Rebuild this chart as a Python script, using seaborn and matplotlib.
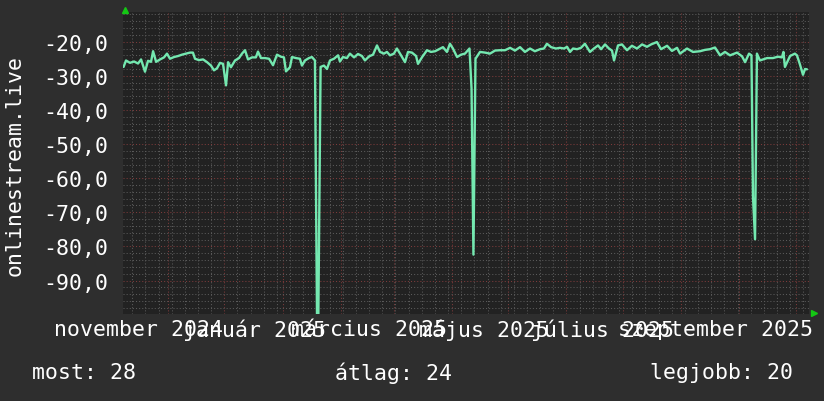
import matplotlib
matplotlib.use("Agg")
import matplotlib.pyplot as plt
import matplotlib.dates as mdates
from matplotlib.ticker import MultipleLocator, FuncFormatter
import seaborn as sns
import pandas as pd

# ---------------- data ----------------
start = pd.Timestamp("2024-10-08 02:24")
day_offsets = [
    0.3, 1.6, 3.7, 5.9, 8.0, 9.6, 11.7, 13.3, 14.9, 16.0, 17.6, 19.7, 21.8, 23.4,
    25.0, 27.1, 29.3, 31.4, 33.5, 35.6, 37.2, 38.3, 40.4, 42.6, 44.7, 46.8, 48.4,
    50.0, 51.6, 53.2, 54.8, 55.9, 57.4, 59.6, 61.7, 63.3, 64.9, 66.5, 68.6, 70.7,
    71.8, 73.4, 75.5, 77.7, 79.8, 81.9, 84.0, 85.6, 86.7, 88.8, 89.9, 92.0, 94.1,
    95.2, 96.8, 98.9, 100.5, 102.1, 103.2, 103.9, 105.1, 106.9, 108.5, 110.1,
    112.2, 114.4, 115.4, 117.0, 119.1, 120.7, 122.9, 125.0, 127.1, 128.7, 130.9,
    133.0, 135.1, 136.7, 138.8, 140.4, 142.0, 144.1, 145.7, 147.9, 150.0, 151.6,
    153.7, 155.9, 156.9, 159.0, 161.7, 163.8, 166.0, 168.1, 170.2, 172.3, 173.9,
    175.5, 177.7, 179.8, 181.9, 184.3, 185.4, 186.4, 187.5, 189.9, 192.6, 195.2,
    197.9, 200.5, 203.2, 205.9, 208.5, 211.2, 213.8, 216.5, 219.1, 221.8, 223.9,
    225.5, 227.7, 230.3, 232.4, 234.6, 236.2, 237.8, 239.4, 241.5, 243.6, 245.7,
    248.4, 250.5, 252.7, 254.3, 256.4, 258.5, 260.1, 261.2, 263.3, 265.4, 268.1,
    270.7, 273.4, 276.1, 278.7, 280.9, 284.0, 286.2, 289.4, 292.0, 294.7, 296.3,
    300.0, 303.2, 306.9, 309.6, 312.2, 314.9, 317.6, 320.2, 322.9, 326.6, 329.3,
    330.9, 333.0, 334.3, 335.1, 336.2, 337.2, 338.8, 342.6, 345.7, 348.4, 350.5,
    351.3, 352.1, 354.8, 357.4, 358.5, 360.1, 361.7, 362.8, 363.8,
]
values = [
    -27.4, -25.5, -26.2, -25.8, -26.4, -25.2, -28.8, -25.6, -25.9, -22.8, -25.9,
    -25.2, -24.6, -23.5, -25.0, -24.5, -24.2, -23.8, -23.5, -23.2, -23.2, -25.0,
    -25.4, -25.2, -26.0, -27.0, -28.4, -27.8, -26.2, -26.5, -32.8, -26.0, -27.5,
    -25.5, -24.8, -23.5, -22.5, -25.2, -24.6, -24.6, -22.9, -24.8, -24.8, -25.0,
    -26.9, -23.8, -24.4, -24.6, -28.7, -27.5, -24.5, -24.8, -25.0, -27.0, -25.5,
    -24.8, -24.5, -25.5, -101.0, -101.0, -27.4, -27.0, -28.0, -25.5, -25.0,
    -24.0, -25.8, -24.5, -24.8, -23.5, -24.6, -23.6, -24.2, -25.5, -24.3, -23.8,
    -21.1, -23.0, -23.5, -23.0, -24.0, -23.5, -22.0, -24.0, -26.0, -23.0, -23.2,
    -24.2, -26.5, -24.6, -22.5, -23.0, -22.8, -22.2, -21.6, -23.0, -20.6, -22.0,
    -24.5, -23.8, -23.5, -22.0, -33.8, -82.4, -25.0, -23.0, -23.2, -23.5, -22.6,
    -22.5, -22.5, -21.8, -22.6, -21.6, -23.0, -22.0, -22.8, -22.2, -22.0, -20.6,
    -21.6, -22.0, -21.8, -22.0, -21.5, -23.0, -22.0, -22.2, -21.8, -20.6, -23.0,
    -22.0, -21.1, -22.2, -20.8, -22.0, -22.6, -25.5, -21.1, -20.8, -22.5, -21.2,
    -22.0, -20.8, -21.5, -20.8, -20.1, -22.2, -21.2, -22.7, -21.8, -23.5, -22.0,
    -23.0, -22.8, -22.4, -22.2, -21.7, -24.0, -23.0, -24.0, -23.2, -24.3, -26.0,
    -23.5, -24.0, -65.3, -77.9, -23.5, -25.5, -24.8, -24.8, -24.4, -24.6, -23.0,
    -27.4, -24.2, -23.5, -24.0, -26.7, -29.7, -28.0, -28.1,
]
y_ticks = [-90, -80, -70, -60, -50, -40, -30, -20]
x_label_days = [8.5, 69.8, 131.0, 192.0, 255.3, 315.0]
x_labels = ["november 2024", "január 2025", "március 2025", "május 2025",
            "július 2025", "szeptember 2025"]
series_label = "onlinestream.live"
stat_names = ["most", "átlag", "legjobb"]
stat_values = [28, 24, 20]

# ---------------- style ----------------
sns.set_theme(style="dark")
plt.rcParams["font.family"] = ["DejaVu Sans Mono", "DejaVu Sans"]

BG = "#2e2e2e"
PLOT_BG = "#222222"
LINE = "#74e8b0"
MAJOR = "#7d3b3b"
MINOR = "#5a5a5a"
FS = 15.5

fig = plt.figure(figsize=(8.24, 4.02), dpi=100, facecolor=BG)
W, H = 824, 402
ax = fig.add_axes([123 / W, (H - 315) / H, 686 / W, 302 / H])
ax.set_facecolor(PLOT_BG)

df = pd.DataFrame({
    "time": start + pd.to_timedelta(day_offsets, unit="D"),
    "value": values,
})
sns.lineplot(data=df, x="time", y="value", ax=ax, color=LINE, linewidth=1.7,
             zorder=5)

ax.set_xlim(start, start + pd.Timedelta(days=364.9))
ax.set_ylim(-99.8, -11.3)

ax.xaxis.set_major_locator(mdates.MonthLocator())
ax.xaxis.set_minor_locator(mdates.WeekdayLocator(byweekday=mdates.SU))
ax.yaxis.set_major_locator(MultipleLocator(10))
ax.yaxis.set_minor_locator(MultipleLocator(2))
ax.set_axisbelow(True)
ax.grid(which="minor", color=MINOR, linestyle=(0, (1, 2)), linewidth=0.75)
ax.grid(which="major", color=MAJOR, linestyle=(0, (1, 2)), linewidth=0.75)

ax.tick_params(axis="x", which="both", length=0, labelbottom=False)
ax.set_yticks(y_ticks)
ax.yaxis.set_major_formatter(FuncFormatter(lambda v, p: f"{v:.1f}".replace(".", ",")))
ax.tick_params(axis="y", which="both", length=0, labelsize=FS, labelcolor="white",
               pad=10.5)
ax.set_xlabel("")
ax.set_ylabel("")
for s in ax.spines.values():
    s.set_visible(False)

sec = ax.secondary_xaxis("bottom")
sec.set_xticks([mdates.date2num(start + pd.Timedelta(days=d)) for d in x_label_days],
               labels=x_labels)
sec.tick_params(length=0, labelsize=FS, labelcolor="white", pad=3.5)
for s in sec.spines.values():
    s.set_visible(False)

# axis arrows
ax.plot([0.0022], [1.0075], marker="^", color="#14c814", markersize=5,
        transform=ax.transAxes, clip_on=False, linestyle="none")
ax.plot([1.0066], [0.004], marker=">", color="#14c814", markersize=5,
        transform=ax.transAxes, clip_on=False, linestyle="none")

fig.text(15 / W, 1 - 166 / H, series_label, rotation=90, ha="center", va="center",
         color="white", fontsize=FS)

stat_x = [32, 335, 650]
for sx, name, val in zip(stat_x, stat_names, stat_values):
    fig.text(sx / W, 1 - 373 / H, f"{name}: {val}", ha="left", va="center",
             color="white", fontsize=FS)

fig.savefig("out.png", dpi=100, facecolor=BG)
